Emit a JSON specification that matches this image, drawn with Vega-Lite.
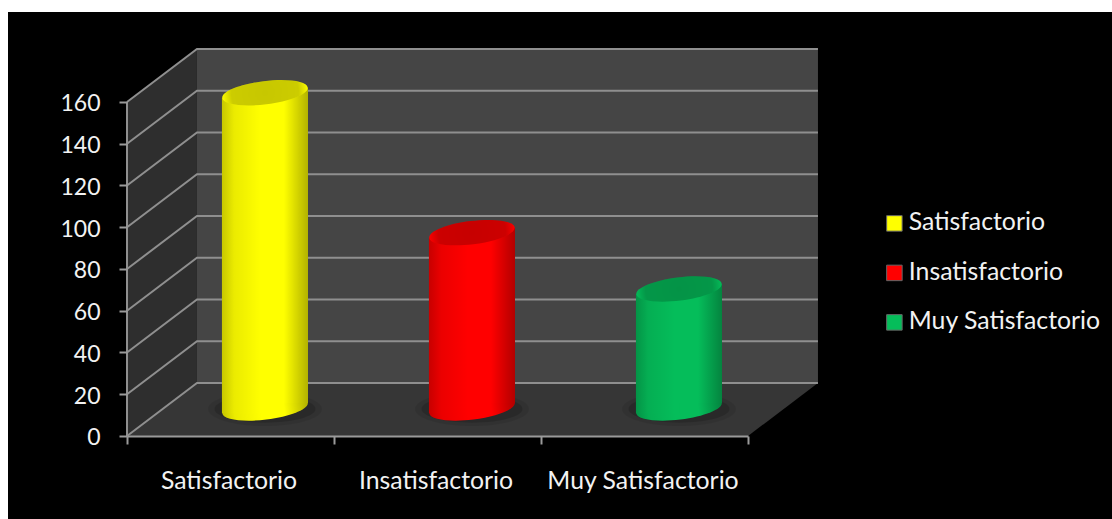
{
"$schema":"https://vega.github.io/schema/vega-lite/v6.json",
"width":1104,"height":507,
"autosize":{"type":"none"},
"padding":{"left":8,"top":12,"right":0,"bottom":0},
"background":"white",
"view":{"fill":"black","stroke":null},
"config":{"font":"Lato"},
"datasets":{
"rows":[{"categoria":"Satisfactorio","valor":151},{"categoria":"Insatisfactorio","valor":84},{"categoria":"Muy Satisfactorio","valor":57}],
"frame":[
{"part":"side","u":0,"lo":0,"hi":160},{"part":"side","u":0.338,"lo":25.4,"hi":185.4},
{"part":"back","u":0.338,"lo":25.4,"hi":185.4},{"part":"back","u":3.338,"lo":25.4,"hi":185.4},
{"part":"floor","u":0,"lo":0,"hi":0},{"part":"floor","u":0.338,"lo":0,"hi":25.4},{"part":"floor","u":3,"lo":0,"hi":25.4},{"part":"floor","u":3.338,"lo":25.4,"hi":25.4}],
"grid":[
{"level":0,"u":0,"v":0},{"level":0,"u":0.338,"v":25.4},{"level":0,"u":3.338,"v":25.4},
{"level":20,"u":0,"v":20},{"level":20,"u":0.338,"v":45.4},{"level":20,"u":3.338,"v":45.4},
{"level":40,"u":0,"v":40},{"level":40,"u":0.338,"v":65.4},{"level":40,"u":3.338,"v":65.4},
{"level":60,"u":0,"v":60},{"level":60,"u":0.338,"v":85.4},{"level":60,"u":3.338,"v":85.4},
{"level":80,"u":0,"v":80},{"level":80,"u":0.338,"v":105.4},{"level":80,"u":3.338,"v":105.4},
{"level":100,"u":0,"v":100},{"level":100,"u":0.338,"v":125.4},{"level":100,"u":3.338,"v":125.4},
{"level":120,"u":0,"v":120},{"level":120,"u":0.338,"v":145.4},{"level":120,"u":3.338,"v":145.4},
{"level":140,"u":0,"v":140},{"level":140,"u":0.338,"v":165.4},{"level":140,"u":3.338,"v":165.4},
{"level":160,"u":0,"v":160},{"level":160,"u":0.338,"v":185.4},{"level":160,"u":3.338,"v":185.4},
{"level":-1,"u":0,"v":0},{"level":-1,"u":0,"v":160}]
},
"resolve":{"scale":{"x":"independent"},"axis":{"y":"independent","x":"independent"},"legend":{"color":"independent"}},
"layer":[
{"data":{"name":"frame"},"transform":[{"filter":"datum.part=='back'"}],"mark":{"type":"area","fill":"#454545"},
 "encoding":{"x":{"field":"u","type":"quantitative","scale":{"domain":[-0.5749,4.7585],"nice":false,"zero":false},"axis":null},
 "y":{"field":"lo","type":"quantitative","scale":{"domain":[-39.76,203.1],"nice":false,"zero":false},
  "axis":{"values":[0,20,40,60,80,100,120,140,160],"title":null,"grid":false,"domain":false,"offset":-119,"tickSize":8,"tickWidth":2,"tickColor":"#9a9a9a","labelColor":"#f2f2f2","labelFontSize":23,"labelPadding":19,"labelOffset":2,"zindex":1}},
 "y2":{"field":"hi"}}},
{"data":{"name":"frame"},"transform":[{"filter":"datum.part=='side'"}],"mark":{"type":"area","fill":"#2e2e2e"},
 "encoding":{"x":{"field":"u","type":"quantitative","scale":{"domain":[-0.5749,4.7585],"nice":false,"zero":false},"axis":null},
 "y":{"field":"lo","type":"quantitative","axis":null},"y2":{"field":"hi"}}},
{"data":{"name":"frame"},"transform":[{"filter":"datum.part=='floor'"}],"mark":{"type":"area","fill":"#363636"},
 "encoding":{"x":{"field":"u","type":"quantitative","scale":{"domain":[-0.5749,4.7585],"nice":false,"zero":false},"axis":null},
 "y":{"field":"lo","type":"quantitative","axis":null},"y2":{"field":"hi"}}},
{"data":{"name":"grid"},"mark":{"type":"line","stroke":"#8f8f8f","strokeWidth":2},
 "encoding":{"x":{"field":"u","type":"quantitative","scale":{"domain":[-0.5749,4.7585],"nice":false,"zero":false},"axis":null},
 "y":{"field":"v","type":"quantitative","axis":null},"detail":{"field":"level"}}},
{"data":{"name":"rows"},"mark":{"type":"point","filled":true,"shape":"M-1,0A1,0.3,0,1,1,1,0A1,0.3,0,1,1,-1,0Z","size":13000,"fill":"black","opacity":0.08,"xOffset":34.5,"yOffset":-27,"strokeWidth":0},
 "encoding":{"x":{"field":"categoria","type":"nominal","sort":null,"scale":{"range":[119,740],"paddingInner":0,"paddingOuter":0},"axis":null},"y":{"datum":0,"type":"quantitative","axis":null}}},
{"data":{"name":"rows"},"mark":{"type":"point","filled":true,"shape":"M-1,0A1,0.27,0,1,1,1,0A1,0.27,0,1,1,-1,0Z","size":10200,"fill":"black","opacity":0.15,"xOffset":34.5,"yOffset":-27,"strokeWidth":0},
 "encoding":{"x":{"field":"categoria","type":"nominal","sort":null,"scale":{"range":[119,740],"paddingInner":0,"paddingOuter":0},"axis":null},"y":{"datum":0,"type":"quantitative","axis":null}}},
{"data":{"name":"rows"},"mark":{"type":"point","filled":true,"opacity":1,"shape":"M-1,0A1,0.27,0,1,1,1,0A1,0.27,0,1,1,-1,0Z","size":7396,"angle":-7,"xOffset":34.5,"yOffset":-28,"strokeWidth":0},
 "encoding":{"x":{"field":"categoria","type":"nominal","sort":null,"scale":{"range":[119,740],"paddingInner":0,"paddingOuter":0},"axis":null},"y":{"datum":0,"type":"quantitative","axis":null},
 "color":{"field":"categoria","type":"nominal","sort":null,"legend":null,"scale":{"domain":["Satisfactorio","Insatisfactorio","Muy Satisfactorio"],"range":["#ffff00","#ff0000","#05bd5a"]}}}},
{"data":{"name":"rows"},"mark":{"type":"point","filled":true,"opacity":1,"shape":"M-1,0A1,0.27,0,1,1,1,0A1,0.27,0,1,1,-1,0Z","size":7396,"angle":-7,"xOffset":34.5,"yOffset":-28,"strokeWidth":0,
  "fill":{"gradient":"linear","x1":0,"x2":1,"y1":0,"y2":0,"stops":[{"offset":0,"color":"rgba(0,0,0,0.22)"},{"offset":0.14,"color":"rgba(0,0,0,0.08)"},{"offset":0.45,"color":"rgba(0,0,0,0)"},{"offset":0.72,"color":"rgba(0,0,0,0)"},{"offset":1,"color":"rgba(0,0,0,0.3)"}]}},
 "encoding":{"x":{"field":"categoria","type":"nominal","sort":null,"scale":{"range":[119,740],"paddingInner":0,"paddingOuter":0},"axis":null},"y":{"datum":0,"type":"quantitative","axis":null}}},
{"data":{"name":"rows"},"mark":{"type":"bar","width":43.5,"xOffset":13.2,"yOffset":-23,"y2Offset":-23},
 "encoding":{"x":{"field":"categoria","type":"nominal","sort":null,"scale":{"range":[119,740],"paddingInner":0,"paddingOuter":0},
  "axis":{"title":null,"labelAngle":0,"offset":-83,"tickBand":"extent","tickExtra":true,"tickSize":8,"tickWidth":2,"tickColor":"#9a9a9a","domainColor":"#9a9a9a","domainWidth":2,"labelColor":"#f2f2f2","labelFontSize":24.8,"labelPadding":24,"labelOffset":-2,"labelLimit":300,"zindex":1,"labelBaseline":"top"}},
 "y":{"field":"valor","type":"quantitative","axis":null},"y2":{"datum":0},
 "color":{"field":"categoria","type":"nominal","sort":null,
  "scale":{"domain":["Satisfactorio","Insatisfactorio","Muy Satisfactorio"],"range":["#ffff00","#ff0000","#05bd5a"]},
  "legend":{"title":null,"orient":"none","legendX":874,"legendY":199,"symbolType":"square","symbolSize":240,"symbolStrokeColor":"#666666","symbolStrokeWidth":1,"symbolOpacity":1,"labelColor":"#f2f2f2","labelFontSize":24.8,"labelOffset":2,"rowPadding":23.5,"labelLimit":240}}}},
{"data":{"name":"rows"},"mark":{"type":"bar","width":43,"xOffset":56,"yOffset":-33,"y2Offset":-33},
 "encoding":{"x":{"field":"categoria","type":"nominal","sort":null,"scale":{"range":[119,740],"paddingInner":0,"paddingOuter":0},"axis":null},
 "y":{"field":"valor","type":"quantitative","axis":null},"y2":{"datum":0},
 "color":{"field":"categoria","type":"nominal","sort":null,"legend":null,"scale":{"domain":["Satisfactorio","Insatisfactorio","Muy Satisfactorio"],"range":["#ffff00","#ff0000","#05bd5a"]}}}},
{"data":{"name":"rows"},"mark":{"type":"bar","width":43.5,"xOffset":13.2,"yOffset":-23,"y2Offset":-23,
  "fill":{"gradient":"linear","x1":0,"x2":1,"y1":0,"y2":0,"stops":[{"offset":0,"color":"rgba(0,0,0,0.22)"},{"offset":0.28,"color":"rgba(0,0,0,0.08)"},{"offset":0.9,"color":"rgba(0,0,0,0)"},{"offset":1,"color":"rgba(0,0,0,0)"}]}},
 "encoding":{"x":{"field":"categoria","type":"nominal","sort":null,"scale":{"range":[119,740],"paddingInner":0,"paddingOuter":0},"axis":null},
 "y":{"field":"valor","type":"quantitative","axis":null},"y2":{"datum":0}}},
{"data":{"name":"rows"},"mark":{"type":"bar","width":43,"xOffset":56,"yOffset":-33,"y2Offset":-33,
  "fill":{"gradient":"linear","x1":0,"x2":1,"y1":0,"y2":0,"stops":[{"offset":0,"color":"rgba(0,0,0,0)"},{"offset":0.44,"color":"rgba(0,0,0,0)"},{"offset":1,"color":"rgba(0,0,0,0.3)"}]}},
 "encoding":{"x":{"field":"categoria","type":"nominal","sort":null,"scale":{"range":[119,740],"paddingInner":0,"paddingOuter":0},"axis":null},
 "y":{"field":"valor","type":"quantitative","axis":null},"y2":{"datum":0}}},
{"data":{"name":"rows"},"mark":{"type":"point","filled":true,"opacity":1,"shape":"M-1,0A1,0.27,0,1,1,1,0A1,0.27,0,1,1,-1,0Z","size":7396,"angle":-7,"xOffset":34.5,"yOffset":-28,"strokeWidth":0},
 "encoding":{"x":{"field":"categoria","type":"nominal","sort":null,"scale":{"range":[119,740],"paddingInner":0,"paddingOuter":0},"axis":null},"y":{"field":"valor","type":"quantitative","axis":null},
 "color":{"field":"categoria","type":"nominal","sort":null,"legend":null,"scale":{"domain":["Satisfactorio","Insatisfactorio","Muy Satisfactorio"],"range":["#ffff00","#ff0000","#05bd5a"]}}}},
{"data":{"name":"rows"},"mark":{"type":"point","filled":true,"opacity":1,"shape":"M-1,0A1,0.27,0,1,1,1,0A1,0.27,0,1,1,-1,0Z","size":7396,"angle":-7,"xOffset":34.5,"yOffset":-28,"strokeWidth":0,
  "fill":{"gradient":"radial","x1":0.5,"y1":0.5,"x2":0.5,"y2":0.5,"r1":0,"r2":0.5,"stops":[{"offset":0,"color":"rgba(0,0,0,0.22)"},{"offset":0.78,"color":"rgba(0,0,0,0.2)"},{"offset":1,"color":"rgba(0,0,0,0.02)"}]}},
 "encoding":{"x":{"field":"categoria","type":"nominal","sort":null,"scale":{"range":[119,740],"paddingInner":0,"paddingOuter":0},"axis":null},"y":{"field":"valor","type":"quantitative","axis":null}}}
]
}
